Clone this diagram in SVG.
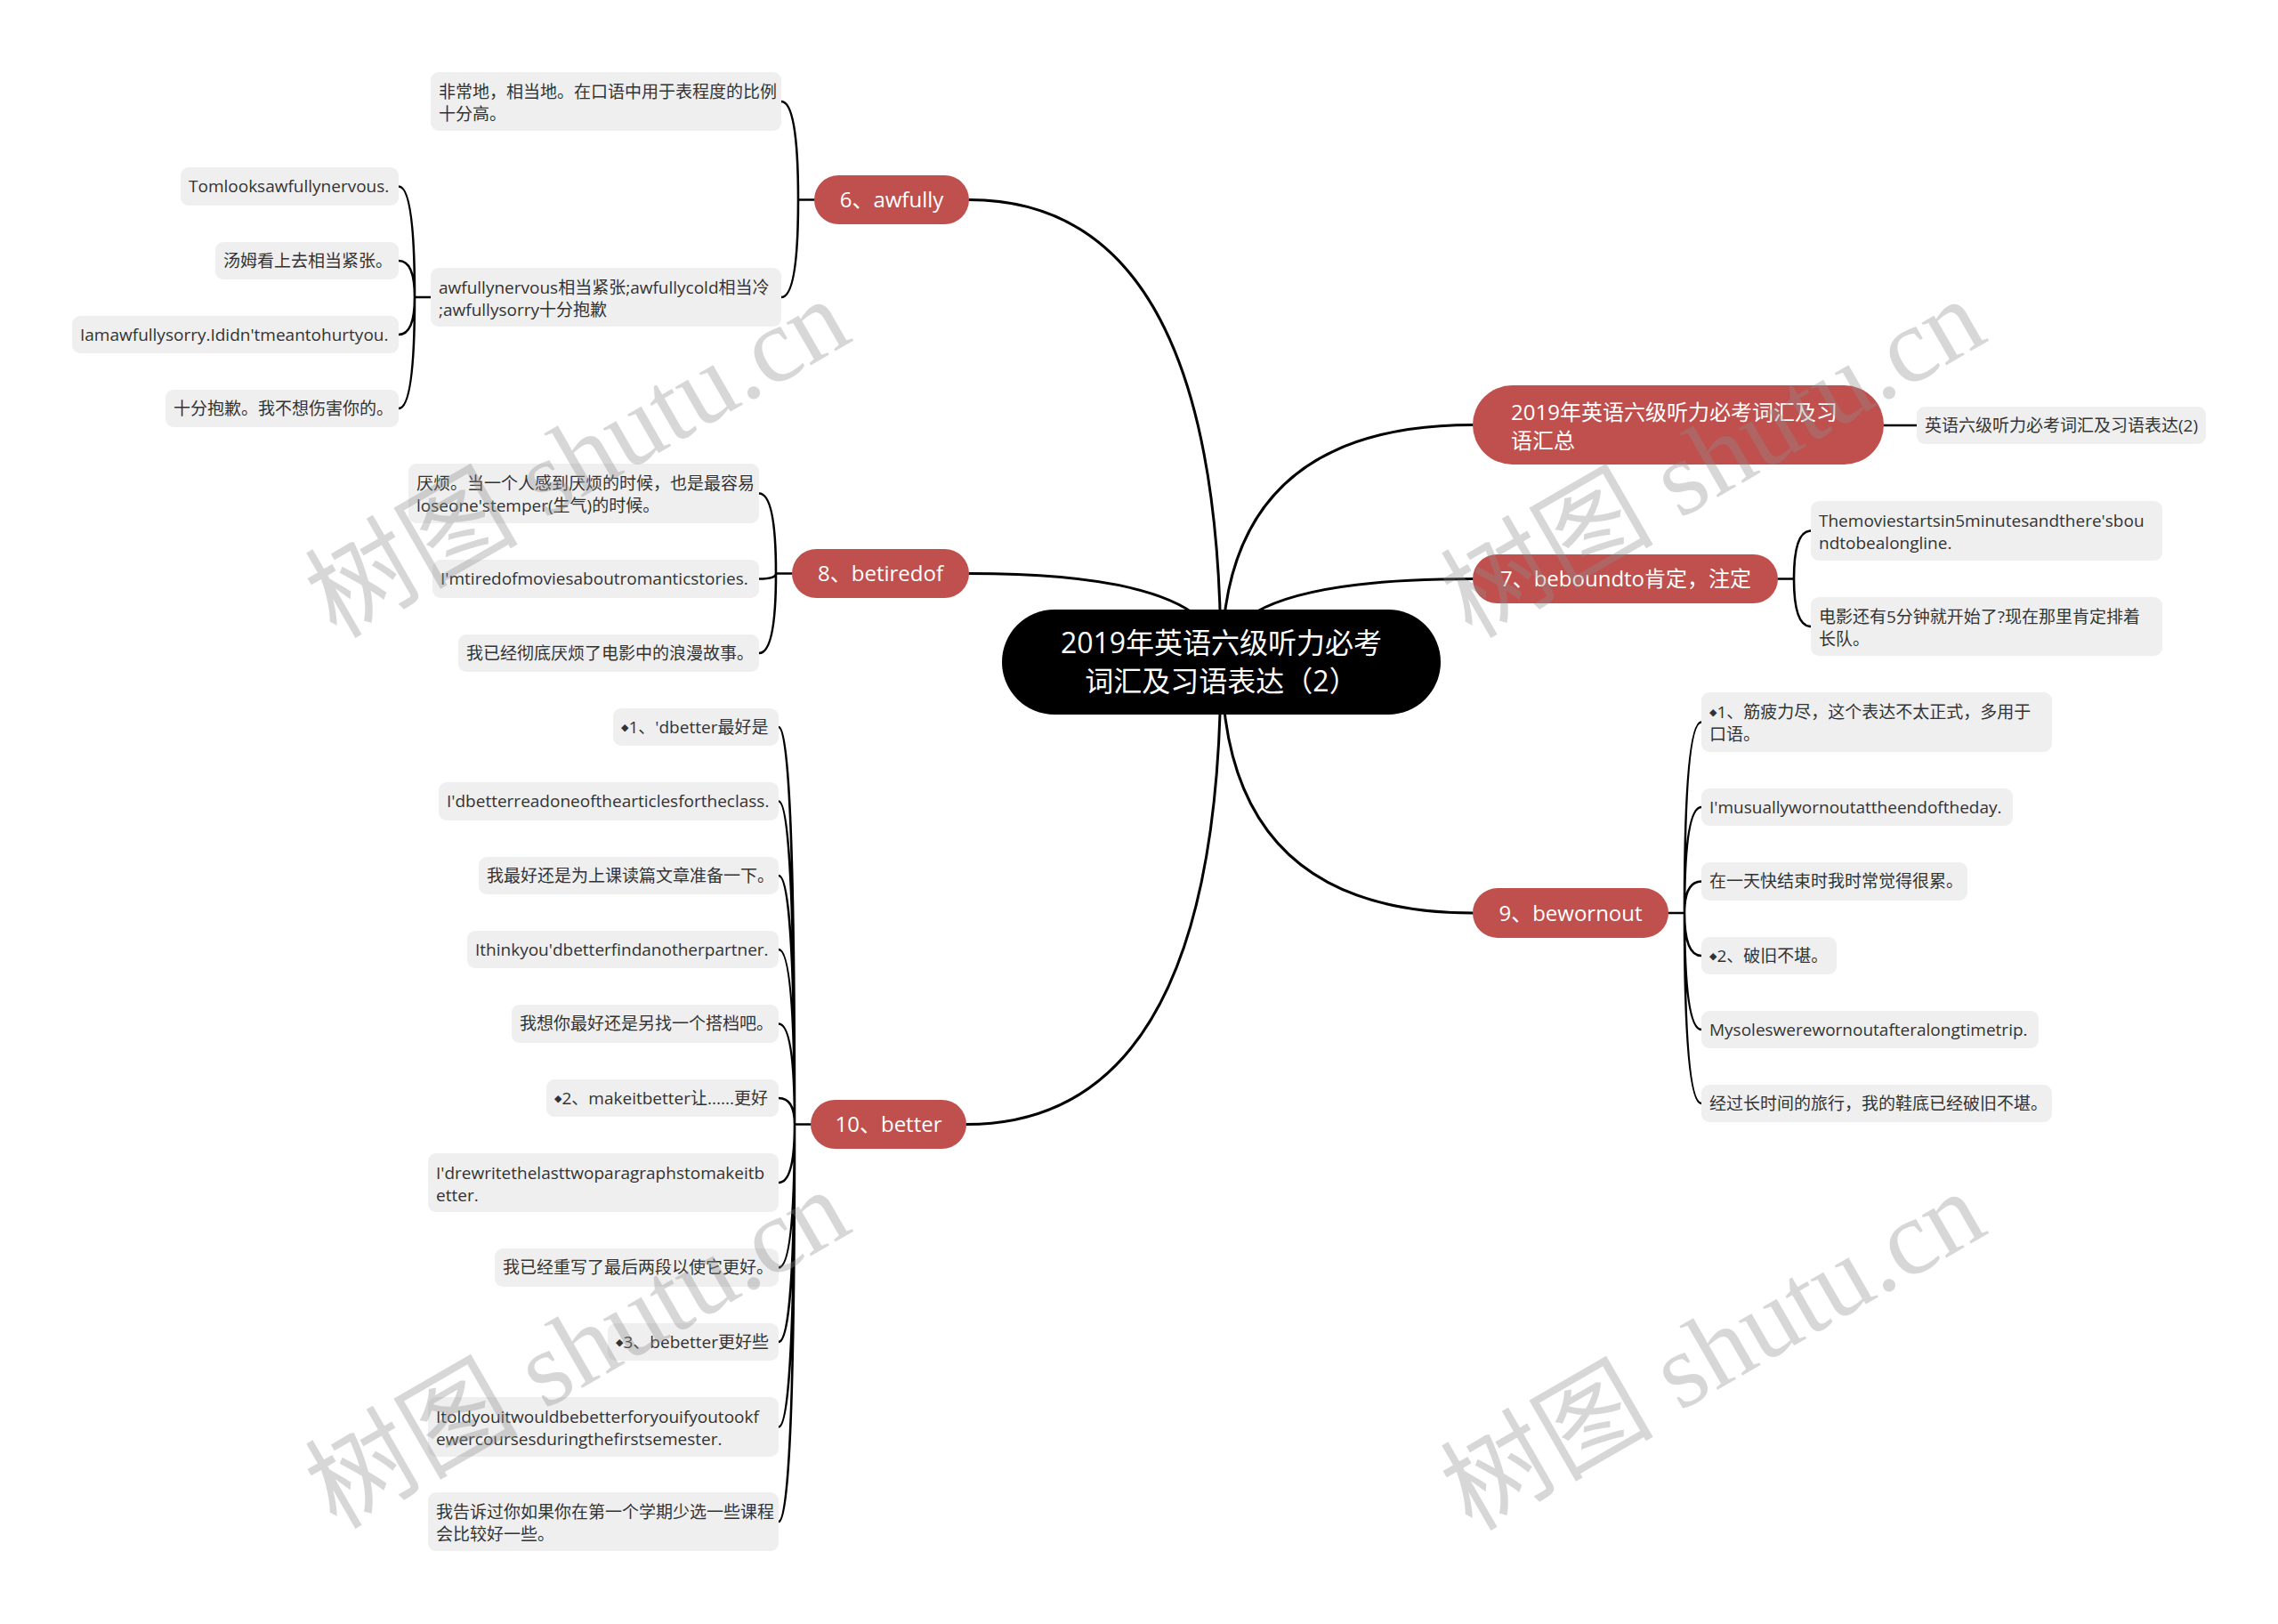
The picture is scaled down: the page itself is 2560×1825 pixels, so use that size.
<svg xmlns="http://www.w3.org/2000/svg" width="2560" height="1825" viewBox="0 0 2560 1825">
<style>
text{font-family:"Open Sans","Noto Sans CJK SC",sans-serif}
.bg{fill:#ffffff}
.root rect{fill:#000000}
.root text{fill:#ffffff;font-size:32px;text-anchor:middle}
.l1 rect{fill:#C0504D}
.l1 text{fill:#ffffff;font-size:24px}
.leaf rect{fill:#EFEFEF}
.leaf text{fill:#333333;font-size:19px}
.dm{font-family:"DejaVu Sans",sans-serif;font-size:11px}
.main path{fill:none;stroke:#000;stroke-width:3;stroke-linecap:round}
.sub path{fill:none;stroke:#000;stroke-width:2.6;stroke-linecap:round}
.wm{font-family:"Liberation Serif","Noto Sans CJK SC",serif;font-size:120px;fill:#8c8c8c;fill-opacity:0.35;text-anchor:middle;dominant-baseline:central}
</style>
<rect class="bg" x="0" y="0" width="2560" height="1825"/>

<g id="connectors">
  <g class="main">
    <path d="M1372 744 Q1372 224.5 1089 224.5"/>
    <path d="M1372 744 Q1372 644.5 1089 644.5"/>
    <path d="M1372 744 Q1372 1263.5 1086 1263.5"/>
    <path d="M1373 744 Q1373 477.5 1655 477.5"/>
    <path d="M1373 744 Q1373 650.5 1655 650.5"/>
    <path d="M1373 744 Q1373 1026 1655 1026"/>
  </g>
  <g class="sub">
    <path d="M915 224.5 H897 M897 224.5 Q897 114 878 114 M897 224.5 Q897 334 878 334"/>
    <path d="M484 334 H466 M466 334 Q466 209.5 448 209.5 M466 334 Q466 293 448 293 M466 334 Q466 376 448 376 M466 334 Q466 459 448 459"/>
    <path d="M890 644.5 H872 M872 644.5 Q872 554.5 853 554.5 M872 644.5 Q872 650.5 853 650.5 M872 644.5 Q872 734 853 734"/>
    <path d="M911 1263.5 H893 M893 1263.5 Q893 817 875 817 M893 1263.5 Q893 900.5 875 900.5 M893 1263.5 Q893 984 875 984 M893 1263.5 Q893 1067 875 1067 M893 1263.5 Q893 1150.5 875 1150.5 M893 1263.5 Q893 1234 875 1234 M893 1263.5 Q893 1329 875 1329 M893 1263.5 Q893 1424.5 875 1424.5 M893 1263.5 Q893 1508 875 1508 M893 1263.5 Q893 1603.5 875 1603.5 M893 1263.5 Q893 1710 875 1710"/>
    <path d="M2117 478 H2154"/>
    <path d="M1998 650.5 H2016 M2016 650.5 Q2016 596.5 2035 596.5 M2016 650.5 Q2016 704 2035 704"/>
    <path d="M1875 1026 H1893 M1893 1026 Q1893 811.5 1912 811.5 M1893 1026 Q1893 907 1912 907 M1893 1026 Q1893 990.5 1912 990.5 M1893 1026 Q1893 1074 1912 1074 M1893 1026 Q1893 1157 1912 1157 M1893 1026 Q1893 1240 1912 1240"/>
  </g>
</g>

<g id="root" class="root">
  <rect x="1126" y="685" width="493" height="118" rx="59"/>
  <text x="1372.5" y="734">2019年英语六级听力必考</text>
  <text x="1372.5" y="777">词汇及习语表达（2）</text>
</g>

<g id="n6" class="l1">
  <rect x="915" y="197" width="174" height="55" rx="27.5"/>
  <text x="1002" y="233" text-anchor="middle">6、awfully</text>
</g>
<g id="n8" class="l1">
  <rect x="890" y="617" width="199" height="55" rx="27.5"/>
  <text x="989.5" y="653" text-anchor="middle">8、betiredof</text>
</g>
<g id="n10" class="l1">
  <rect x="911" y="1236" width="175" height="55" rx="27.5"/>
  <text x="998.5" y="1272" text-anchor="middle">10、better</text>
</g>
<g id="nTop" class="l1">
  <rect x="1655" y="433" width="462" height="89" rx="44.5"/>
  <text x="1698" y="472">2019年英语六级听力必考词汇及习</text>
  <text x="1698" y="504">语汇总</text>
</g>
<g id="n7" class="l1">
  <rect x="1655" y="623" width="343" height="55" rx="27.5"/>
  <text x="1827" y="659" text-anchor="middle">7、beboundto肯定，注定</text>
</g>
<g id="n9" class="l1">
  <rect x="1655" y="998" width="220" height="56" rx="28"/>
  <text x="1765" y="1035" text-anchor="middle">9、bewornout</text>
</g>

<g id="a1" class="leaf"><rect x="484" y="81" width="394" height="66" rx="9"/><text x="493" y="110">非常地，相当地。在口语中用于表程度的比例</text><text x="493" y="135">十分高。</text></g>
<g id="a2" class="leaf"><rect x="484" y="301" width="394" height="66" rx="9"/><text x="493" y="330">awfullynervous相当紧张;awfullycold相当冷</text><text x="493" y="355">;awfullysorry十分抱歉</text></g>
<g id="a21" class="leaf"><rect x="203" y="188" width="245" height="43" rx="9"/><text x="212" y="216">Tomlooksawfullynervous.</text></g>
<g id="a22" class="leaf"><rect x="242" y="272" width="206" height="42" rx="9"/><text x="251" y="300">汤姆看上去相当紧张。</text></g>
<g id="a23" class="leaf"><rect x="81" y="355" width="367" height="42" rx="9"/><text x="90" y="383">Iamawfullysorry.Ididn'tmeantohurtyou.</text></g>
<g id="a24" class="leaf"><rect x="186" y="438" width="262" height="42" rx="9"/><text x="195" y="466">十分抱歉。我不想伤害你的。</text></g>

<g id="b1" class="leaf"><rect x="459" y="521" width="394" height="67" rx="9"/><text x="468" y="550">厌烦。当一个人感到厌烦的时候，也是最容易</text><text x="468" y="575">loseone'stemper(生气)的时候。</text></g>
<g id="b2" class="leaf"><rect x="486" y="629" width="367" height="43" rx="9"/><text x="495" y="657">I'mtiredofmoviesaboutromanticstories.</text></g>
<g id="b3" class="leaf"><rect x="515" y="713" width="338" height="42" rx="9"/><text x="524" y="741">我已经彻底厌烦了电影中的浪漫故事。</text></g>

<g id="c1" class="leaf"><rect x="689" y="796" width="186" height="42" rx="9"/><text x="698" y="824"><tspan class="dm" dy="-3">◆</tspan><tspan dy="3">1、'dbetter最好是</tspan></text></g>
<g id="c2" class="leaf"><rect x="493" y="879" width="382" height="43" rx="9"/><text x="502" y="907">I'dbetterreadoneofthearticlesfortheclass.</text></g>
<g id="c3" class="leaf"><rect x="538" y="963" width="337" height="42" rx="9"/><text x="547" y="991">我最好还是为上课读篇文章准备一下。</text></g>
<g id="c4" class="leaf"><rect x="525" y="1046" width="350" height="42" rx="9"/><text x="534" y="1074">Ithinkyou'dbetterfindanotherpartner.</text></g>
<g id="c5" class="leaf"><rect x="575" y="1129" width="300" height="43" rx="9"/><text x="584" y="1157">我想你最好还是另找一个搭档吧。</text></g>
<g id="c6" class="leaf"><rect x="614" y="1213" width="261" height="42" rx="9"/><text x="623" y="1241"><tspan class="dm" dy="-3">◆</tspan><tspan dy="3">2、makeitbetter让......更好</tspan></text></g>
<g id="c7" class="leaf"><rect x="481" y="1296" width="394" height="66" rx="9"/><text x="490" y="1325">I'drewritethelasttwoparagraphstomakeitb</text><text x="490" y="1350">etter.</text></g>
<g id="c8" class="leaf"><rect x="556" y="1403" width="319" height="43" rx="9"/><text x="565" y="1431">我已经重写了最后两段以使它更好。</text></g>
<g id="c9" class="leaf"><rect x="683" y="1487" width="192" height="42" rx="9"/><text x="692" y="1515"><tspan class="dm" dy="-3">◆</tspan><tspan dy="3">3、bebetter更好些</tspan></text></g>
<g id="c10" class="leaf"><rect x="481" y="1570" width="394" height="67" rx="9"/><text x="490" y="1599">Itoldyouitwouldbebetterforyouifyoutookf</text><text x="490" y="1624">ewercoursesduringthefirstsemester.</text></g>
<g id="c11" class="leaf"><rect x="481" y="1677" width="394" height="66" rx="9"/><text x="490" y="1706">我告诉过你如果你在第一个学期少选一些课程</text><text x="490" y="1731">会比较好一些。</text></g>

<g id="t1" class="leaf"><rect x="2154" y="457" width="325" height="42" rx="9"/><text x="2163" y="485">英语六级听力必考词汇及习语表达(2)</text></g>
<g id="s1" class="leaf"><rect x="2035" y="563" width="395" height="67" rx="9"/><text x="2044" y="592">Themoviestartsin5minutesandthere'sbou</text><text x="2044" y="617">ndtobealongline.</text></g>
<g id="s2" class="leaf"><rect x="2035" y="671" width="395" height="66" rx="9"/><text x="2044" y="700">电影还有5分钟就开始了?现在那里肯定排着</text><text x="2044" y="725">长队。</text></g>

<g id="w1" class="leaf"><rect x="1912" y="778" width="394" height="67" rx="9"/><text x="1921" y="807"><tspan class="dm" dy="-3">◆</tspan><tspan dy="3">1、筋疲力尽，这个表达不太正式，多用于</tspan></text><text x="1921" y="832">口语。</text></g>
<g id="w2" class="leaf"><rect x="1912" y="886" width="350" height="42" rx="9"/><text x="1921" y="914">I'musuallywornoutattheendoftheday.</text></g>
<g id="w3" class="leaf"><rect x="1912" y="969" width="299" height="43" rx="9"/><text x="1921" y="997">在一天快结束时我时常觉得很累。</text></g>
<g id="w4" class="leaf"><rect x="1912" y="1053" width="152" height="42" rx="9"/><text x="1921" y="1081"><tspan class="dm" dy="-3">◆</tspan><tspan dy="3">2、破旧不堪。</tspan></text></g>
<g id="w5" class="leaf"><rect x="1912" y="1136" width="379" height="42" rx="9"/><text x="1921" y="1164">Mysoleswerewornoutafteralongtimetrip.</text></g>
<g id="w6" class="leaf"><rect x="1912" y="1219" width="394" height="42" rx="9"/><text x="1921" y="1247">经过长时间的旅行，我的鞋底已经破旧不堪。</text></g>

<g id="watermarks">
  <text class="wm" transform="translate(649,515) rotate(-30)">树图 shutu.cn</text>
  <text class="wm" transform="translate(1925,515) rotate(-30)">树图 shutu.cn</text>
  <text class="wm" transform="translate(649,1516) rotate(-30)">树图 shutu.cn</text>
  <text class="wm" transform="translate(1925,1518) rotate(-30)">树图 shutu.cn</text>
</g>
</svg>
